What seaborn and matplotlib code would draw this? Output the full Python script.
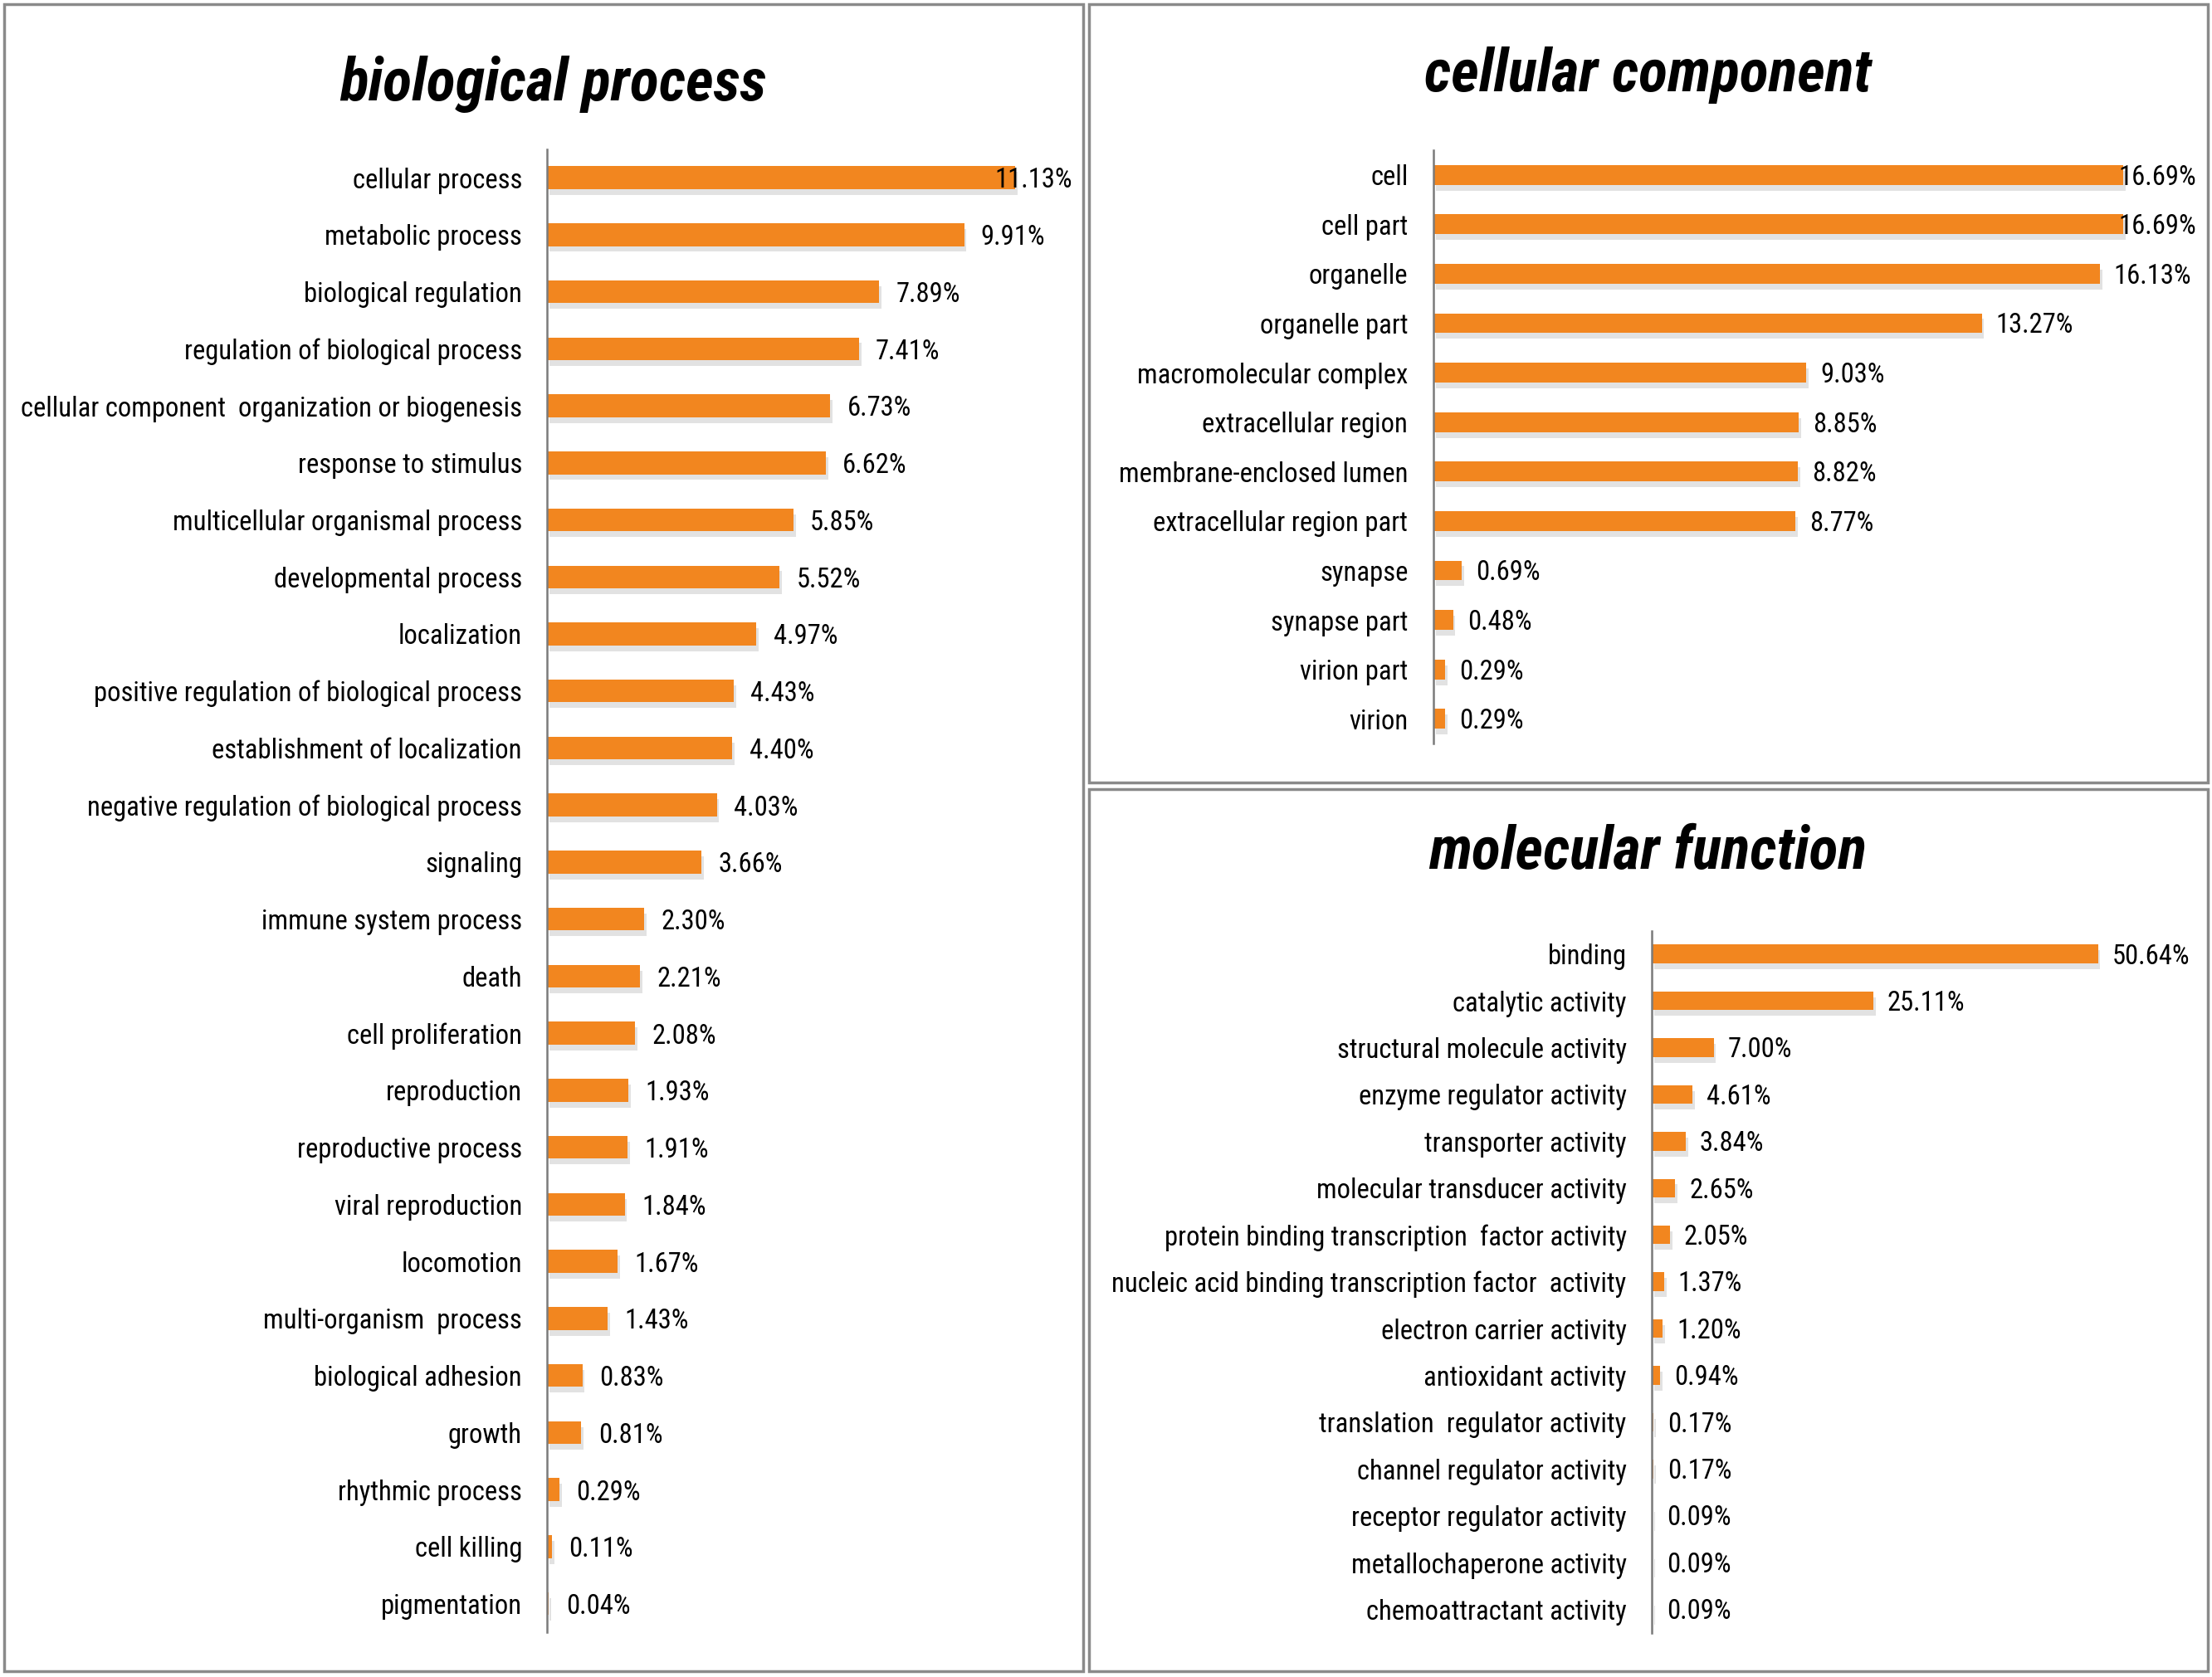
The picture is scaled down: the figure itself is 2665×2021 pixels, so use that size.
import numpy as np
import pandas as pd
import matplotlib
matplotlib.use("Agg")
import matplotlib.pyplot as plt
import matplotlib.patheffects as pe
from matplotlib import font_manager as fm
from matplotlib.patches import Rectangle
import seaborn as sns

# ---- data (GO annotation percentages) ----
bp_terms = ["cellular process", "metabolic process", "biological regulation",
            "regulation of biological process",
            "cellular component  organization or biogenesis",
            "response to stimulus", "multicellular organismal process",
            "developmental process", "localization",
            "positive regulation of biological process",
            "establishment of localization",
            "negative regulation of biological process", "signaling",
            "immune system process", "death", "cell proliferation",
            "reproduction", "reproductive process", "viral reproduction",
            "locomotion", "multi-organism  process", "biological adhesion",
            "growth", "rhythmic process", "cell killing", "pigmentation"]
bp_pct = [11.13, 9.91, 7.89, 7.41, 6.73, 6.62, 5.85, 5.52, 4.97, 4.43, 4.40,
          4.03, 3.66, 2.30, 2.21, 2.08, 1.93, 1.91, 1.84, 1.67, 1.43, 0.83,
          0.81, 0.29, 0.11, 0.04]

cc_terms = ["cell", "cell part", "organelle", "organelle part",
            "macromolecular complex", "extracellular region",
            "membrane-enclosed lumen", "extracellular region part",
            "synapse", "synapse part", "virion part", "virion"]
cc_pct = [16.69, 16.69, 16.13, 13.27, 9.03, 8.85, 8.82, 8.77, 0.69, 0.48,
          0.29, 0.29]

mf_terms = ["binding", "catalytic activity", "structural molecule activity",
            "enzyme regulator activity", "transporter activity",
            "molecular transducer activity",
            "protein binding transcription  factor activity",
            "nucleic acid binding transcription factor  activity",
            "electron carrier activity", "antioxidant activity",
            "translation  regulator activity", "channel regulator activity",
            "receptor regulator activity", "metallochaperone activity",
            "chemoattractant activity"]
mf_pct = [50.64, 25.11, 7.00, 4.61, 3.84, 2.65, 2.05, 1.37, 1.20, 0.94, 0.17,
          0.17, 0.09, 0.09, 0.09]

sns.set_style("white")

# pick a narrow face if one is installed (the original uses a condensed font)
names = {f.name for f in fm.fontManager.ttflist}
narrow = None
for cand in ["Liberation Sans Narrow", "Arial Narrow", "Roboto Condensed",
             "Open Sans Condensed", "Noto Sans Condensed", "DejaVu Sans Condensed"]:
    if cand in names:
        narrow = cand
        break
if narrow is None:
    for n in sorted(names):
        if "Narrow" in n or "Condensed" in n:
            narrow = n
            break
if narrow in ("Liberation Sans Narrow", "Arial Narrow", "Roboto Condensed",
              "Open Sans Condensed", "Noto Sans Condensed"):
    lab_fs, val_fs, title_fs = 23.5, 23.5, 52
else:
    lab_fs, val_fs, title_fs = 21, 21, 44
fams = ([narrow] if narrow else []) + ["Liberation Sans", "DejaVu Sans"]
plt.rcParams["font.family"] = fams
plt.rcParams["text.color"] = "black"
plt.rcParams["ytick.color"] = "black"

BAR = "#F2861F"
W, H = 1568.0, 1190.0  # layout grid of the reference


def box(x0, y0, x1, y1):
    return [x0 / W, 1 - y1 / H, (x1 - x0) / W, (y1 - y0) / H]


fig = plt.figure(figsize=(26.65, 20.21), dpi=100)

# panel frames
for x0, y0, x1, y1 in [(3, 3, 768, 1186), (772, 3, 1565, 555), (772, 560, 1565, 1186)]:
    fig.add_artist(Rectangle((x0 / W, 1 - y1 / H), (x1 - x0) / W, (y1 - y0) / H,
                             transform=fig.transFigure, fill=False,
                             edgecolor="#8a8a8a", lw=2.5))

panels = [
    # terms, values, title, axes rect, title pos, xmax, pad, label max
    (bp_terms, bp_pct, "biological process", box(388, 105.8, 760, 1158.2), (392, 60), 12.48, 0.40, 10.64),
    (cc_terms, cc_pct, "cellular component", box(1016, 106.5, 1560, 527.6), (1168, 53), 18.57, 0.34, 16.59),
    (mf_terms, mf_pct, "molecular function", box(1171, 660.4, 1560, 1158.6), (1168, 605), 62.3, 1.6, 99),
]

for terms, vals, title, rect, tpos, xmax, pad, lmax in panels:
    ax = fig.add_axes(rect)
    df = pd.DataFrame({"term": terms, "pct": vals})
    sns.barplot(data=df, x="pct", y="term", orient="h", color=BAR,
                saturation=1, width=0.4, linewidth=0, ax=ax)
    for p in ax.patches:
        p.set_path_effects([pe.withSimplePatchShadow(offset=(2, -5), shadow_rgbFace="#a0a0a0", alpha=0.3),
                            pe.Normal()])
    n = len(terms)
    ax.set_ylim(n - 0.5, -0.5)
    ax.set_xlim(0, xmax)
    ax.set_xlabel("")
    ax.set_ylabel("")
    ax.set_xticks([])
    ax.tick_params(axis="y", length=0, pad=22, labelsize=lab_fs, labelcolor="black")
    for s in ["top", "right", "bottom"]:
        ax.spines[s].set_visible(False)
    ax.spines["left"].set_color("#7a7a7a")
    ax.spines["left"].set_linewidth(1.8)
    ax.patch.set_alpha(0)
    for i, v in enumerate(vals):
        ax.text(min(v + pad, lmax), i + 0.05, f"{v:.2f}%", va="center", ha="left",
                fontsize=val_fs, color="black", clip_on=False)
    fig.text(tpos[0] / W, 1 - tpos[1] / H, title, ha="center", va="center",
             fontsize=title_fs, fontweight="bold", fontstyle="italic", color="black")

fig.savefig("out.png", dpi=100)
